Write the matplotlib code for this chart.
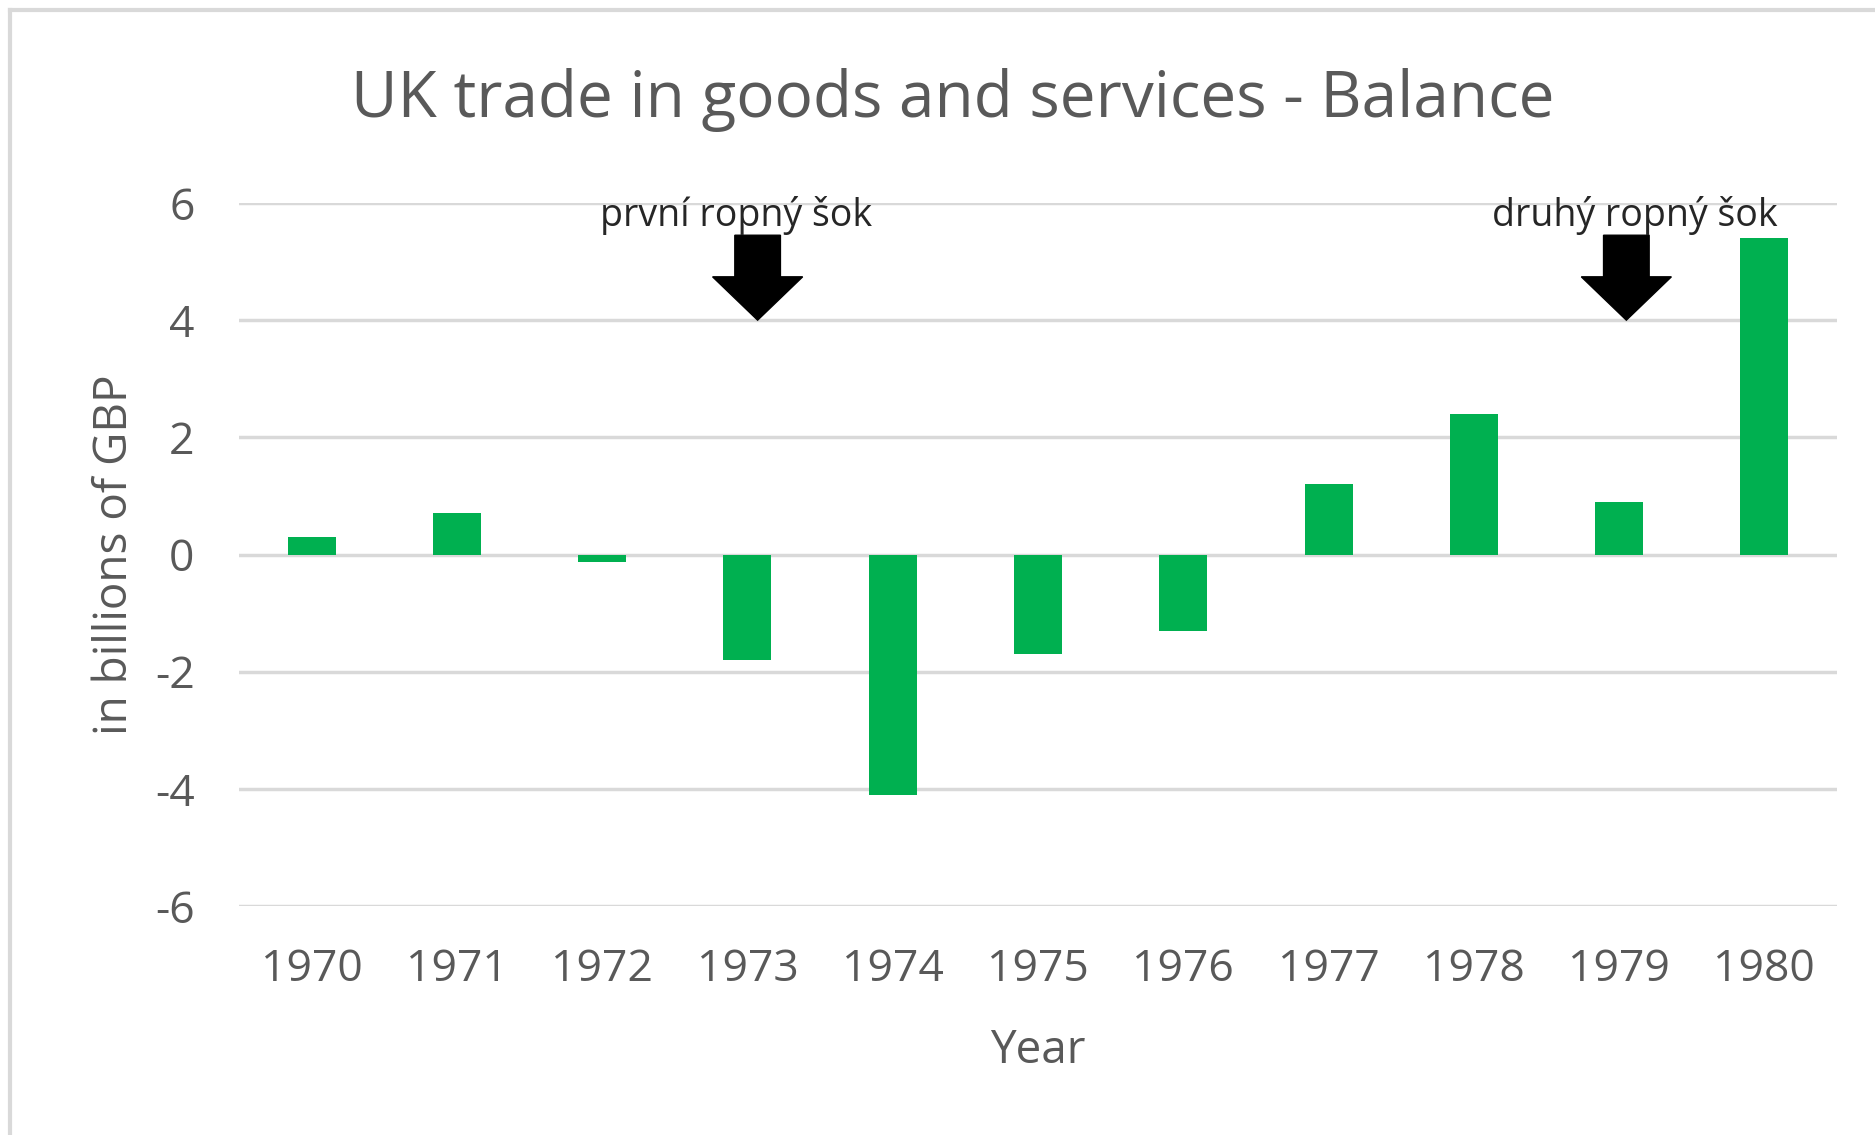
import matplotlib.pyplot as plt
from matplotlib.patches import Polygon
from matplotlib.lines import Line2D
import numpy as np

plt.rcParams['font.family'] = ['Open Sans', 'DejaVu Sans']
plt.rcParams['axes.unicode_minus'] = False

# Data
years = ["1970", "1971", "1972", "1973", "1974", "1975", "1976", "1977", "1978", "1979", "1980"]
balance = [0.3, 0.7, -0.12, -1.8, -4.1, -1.7, -1.3, 1.2, 2.4, 0.9, 5.4]

# Annotations: label, arrow x position (category index), text x position
shocks = ["první ropný šok", "druhý ropný šok"]
shock_arrow_x = [3.07, 9.05]
shock_text_x = [2.92, 9.11]

W, H = 1875, 1135
fig = plt.figure(figsize=(W / 100, H / 100), dpi=100)
ax = fig.add_axes([239 / W, 1 - 906 / H, (1837 - 239) / W, (906 - 203) / H])

x = np.arange(len(years))
ax.bar(x, balance, width=0.33, color="#00B050", zorder=3)

ax.set_xlim(-0.5, len(years) - 0.5)
ax.set_ylim(-6, 6)
ax.set_yticks(np.arange(-6, 7, 2))
ax.set_xticks(x)
ax.set_xticklabels(years)
ax.grid(axis="y", color="#D9D9D9", linewidth=2.5, zorder=0)
for s in ax.spines.values():
    s.set_visible(False)
ax.tick_params(axis="both", length=0, labelsize=32, labelcolor="#595959")
ax.tick_params(axis="x", pad=30)
ax.tick_params(axis="y", pad=32)

ax.set_xlabel("Year", fontsize=33, color="#595959", labelpad=26)
ax.set_ylabel("in billions of GBP", fontsize=33, color="#595959", labelpad=12)

fig.text(953 / W, 1 - 100 / H, "UK trade in goods and services - Balance",
         ha="center", va="center", fontsize=46, color="#595959")

# Arrows and labels for the oil shocks
for label, ax_x, tx in zip(shocks, shock_arrow_x, shock_text_x):
    top, neck, tip = 5.45, 4.74, 4.0
    bw, hw = 0.157, 0.31
    arrow = Polygon([[ax_x - bw, top], [ax_x + bw, top], [ax_x + bw, neck],
                     [ax_x + hw, neck], [ax_x, tip], [ax_x - hw, neck],
                     [ax_x - bw, neck]], closed=True, color="black", zorder=4)
    ax.add_patch(arrow)
    ax.text(tx, 5.78, label, ha="center", va="center", fontsize=27,
            color="#262626", zorder=5)

# Light grey frame (top and left edges)
fig.add_artist(Line2D([10 / W, 10 / W], [0, 1 - 10 / H], color="#D9D9D9", lw=3))
fig.add_artist(Line2D([10 / W, 1], [1 - 10 / H, 1 - 10 / H], color="#D9D9D9", lw=3))

fig.savefig("out.png", dpi=100, facecolor="white")
